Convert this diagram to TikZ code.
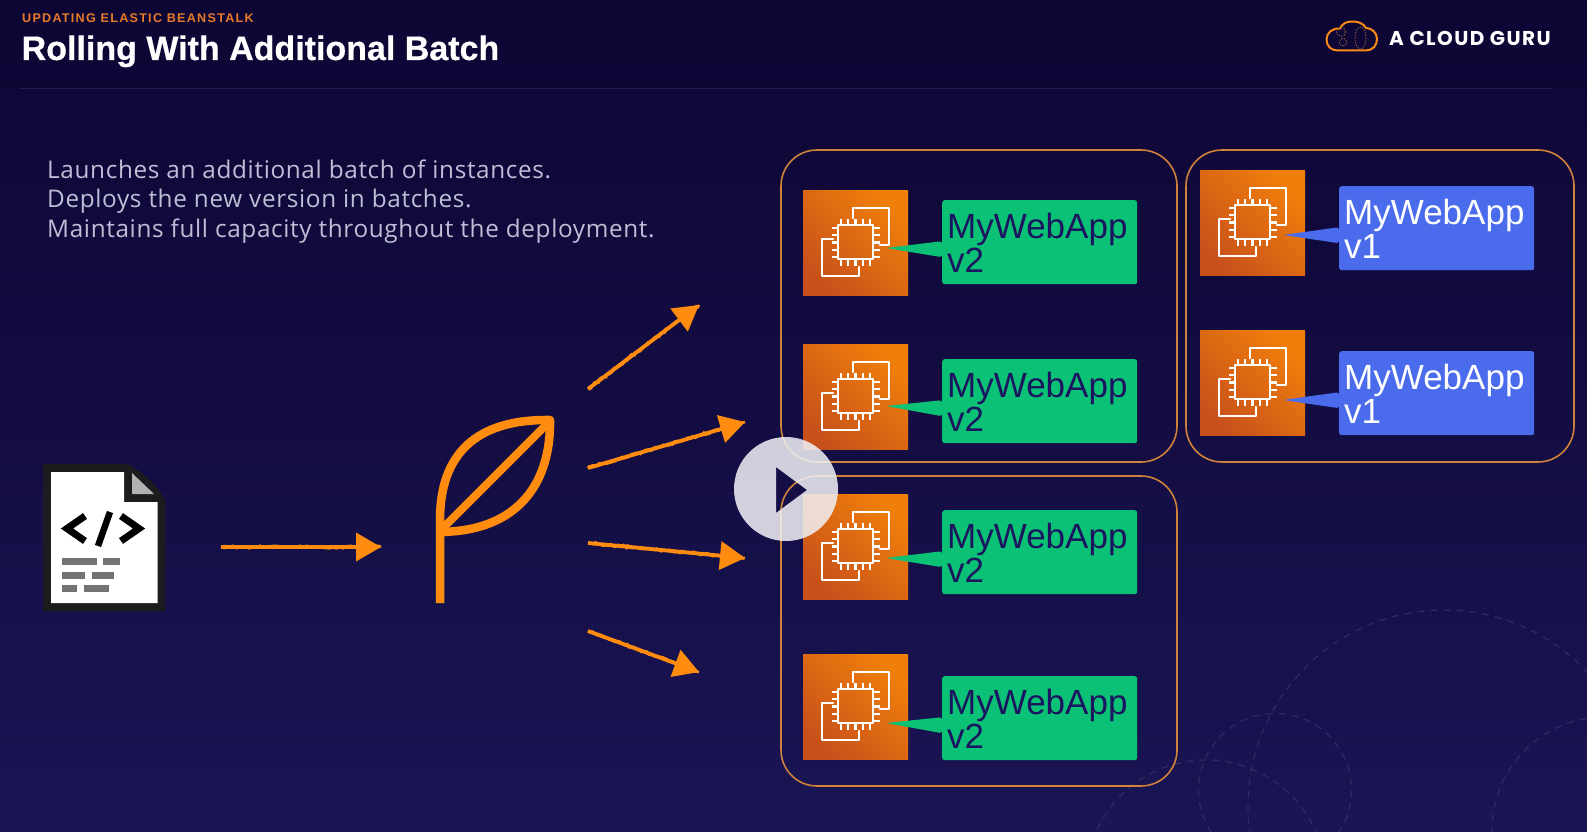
\documentclass[tikz,border=0pt]{standalone}
\usepackage{fontspec}
\setmainfont{Liberation Sans}
\newfontfamily\titlefont[FakeBold=0.6]{Liberation Sans Bold}
\newfontfamily\kickerfont[LetterSpace=10]{Liberation Sans}
\newfontfamily\brandfont[LetterSpace=7]{Poppins}
\newfontfamily\bodyfont[LetterSpace=2.7]{Open Sans}
\usetikzlibrary{arrows.meta,decorations.pathmorphing,calc}
\definecolor{orng}{HTML}{FF8C0E}
\definecolor{kick}{HTML}{E87A2B}
\definecolor{frame}{HTML}{D0813A}
\definecolor{ink}{HTML}{1B1560}
\definecolor{ringc}{HTML}{2E2A62}
\definecolor{ec2low}{HTML}{C8511B}
\definecolor{ec2high}{HTML}{F07F0A}
\definecolor{appgreen}{HTML}{0BC176}
\definecolor{appblue}{HTML}{4A6CEC}
\definecolor{bgtop}{RGB}{13,5,51}
\definecolor{bgbot}{RGB}{26,21,84}
\definecolor{rulec}{RGB}{33,28,80}
\definecolor{desctext}{RGB}{190,190,214}
\definecolor{docdark}{RGB}{28,28,30}
\definecolor{docfold}{RGB}{178,178,178}
\definecolor{playc}{RGB}{240,240,245}
\definecolor{clouddot}{HTML}{8A6240}
\tikzset{
  x=1pt,y=-1pt,
  groupbox/.style={draw=frame,line width=1.6pt,rounded corners=36pt},
  ec2box/.style={minimum width=105pt,minimum height=105pt,inner sep=0pt,anchor=north west,
     shading=axis,bottom color=ec2low,top color=ec2high,shading angle=-45},
  appbox/.style={minimum width=195pt,minimum height=84pt,inner sep=0pt,anchor=north west,rounded corners=2.5pt},
  v2box/.style={appbox,fill=appgreen},
  v1box/.style={appbox,fill=appblue},
  apptext/.style={anchor=base west,inner sep=0pt,align=left,font=\fontsize{35}{34}\selectfont},
  chalk/.style={draw=orng,line width=3.8pt,-{Triangle[length=25pt,width=28pt]},
     postaction={draw=orng,-,line width=2.6pt,decorate,decoration={random steps,segment length=2.5pt,amplitude=1.3pt}}},
  ring/.style={draw=ringc,line width=1.3pt,dash pattern=on 7pt off 6pt},
  clouddots/.style={draw=clouddot,line width=.9pt,dash pattern=on 1.3pt off 1.3pt},
  ec2/.pic={
    \begin{scope}[draw=white,line width=2.8pt,line join=round,line cap=round]
    \draw (35,35) rectangle (70,69);
    \draw (50,28) -- (50,18) -- (86,18) -- (86,55) -- (77,55);
    \draw (30,49) -- (19,49) -- (19,86) -- (56,86) -- (56,77);
    \foreach \p in {3,10,17.5,25,32}{
      \draw[line width=2.8pt,line cap=butt] ({35+\p},35) -- ({35+\p},28.5);
      \draw[line width=2.8pt,line cap=butt] ({35+\p},69) -- ({35+\p},75.5);
      \draw[line width=2.8pt,line cap=butt] (35,{35+\p}) -- (28.5,{35+\p});
      \draw[line width=2.8pt,line cap=butt] (70,{35+\p}) -- (76.5,{35+\p});
    }
    \end{scope}
  }
}
% name, square x, square y, box x, box y, tip y, colour style, version, text colour
\newcommand{\instance}[9]{%
  \node[ec2box] (sq#1) at (#2,#3) {};
  \pic at (sq#1.north west) {ec2};
  \node[#7] (app#1) at (#4,#5) {};
  \coordinate (tip#1) at ($(sq#1.north west)+(83,#6)$);
  \fill[#7] (tip#1) -- ($(app#1.west)+(0,-1)$) -- ($(app#1.west)+(0,15)$) -- cycle;
  \node[apptext,text=#9] (txt#1) at ($(app#1.north west)+(5,72.5)$) {MyWebApp\\v#8};
}
\begin{document}
\begin{tikzpicture}
\useasboundingbox (0,0) rectangle (1587,832);
\shade[top color=bgtop, bottom color=bgbot] (0,0) rectangle (1587,832);
\begin{scope}
\clip (0,0) rectangle (1587,832);
\draw[ring] (1444,806) circle[radius=196];
\draw[ring] (1275,790) circle[radius=76.5];
\draw[ring] (1206,880) circle[radius=120];
\draw[ring] (1605,830) circle[radius=113];
\end{scope}
% header
\coordinate (ruleL) at (19,88.5);
\coordinate (ruleR) at (1553,88.5);
\draw[draw=rulec,line width=1.6pt] (ruleL) -- (ruleR);
\node[anchor=base west,inner sep=0pt,text=kick,font=\kickerfont\bfseries\fontsize{12.6}{14}\selectfont] (kicker) at (22,22.3) {UPDATING ELASTIC BEANSTALK};
\node[anchor=base west,inner sep=0pt,text=white,font=\titlefont\fontsize{34}{36}\selectfont] (title) at (21.5,60) {Rolling With Additional Batch};
\node[anchor=base west,inner sep=0pt,text=white,font=\brandfont\bfseries\fontsize{20}{22}\selectfont] (brand) at (1389,46) {A CLOUD GURU};
\draw[orng!85!frame,line width=2pt,line join=round] (1338,50.5) -- (1366,50.5) .. controls (1373,50.5) and (1377,45) .. (1377,39) .. controls (1377,33) and (1372,28) .. (1366,28) .. controls (1363,23) and (1358,21.5) .. (1352,21.5) .. controls (1346,21.5) and (1342,24) .. (1340,28.5) .. controls (1332,28) and (1326.5,33) .. (1326.5,39.5) .. controls (1326.5,46) and (1331,50.5) .. (1338,50.5) -- cycle;
\draw[clouddots] (1360.5,38) ellipse[x radius=5.5,y radius=11];
\draw[clouddots] (1341,32) circle[radius=4.5];
\draw[clouddots] (1343,42) circle[radius=3.8];
% description
\node[anchor=north west,inner sep=0pt,align=left,text=desctext,font=\bodyfont\fontsize{24.3}{29.5}\selectfont] (desc) at (47,159.5) {Launches an additional batch of instances.\\Deploys the new version in batches.\\Maintains full capacity throughout the deployment.};
% groups
\draw[groupbox] (781,150) rectangle (1177,462);
\draw[groupbox] (781,476) rectangle (1177,786);
\draw[groupbox] (1186,150) rectangle (1574,462);
% instances
\instance{a}{803}{190}{942}{200}{58}{v2box}{2}{ink}
\instance{b}{803}{344}{942}{359}{62}{v2box}{2}{ink}
\instance{c}{803}{494}{942}{510}{64}{v2box}{2}{ink}
\instance{d}{803}{654}{942}{676}{69}{v2box}{2}{ink}
\instance{e}{1200}{170}{1339}{186}{65}{v1box}{1}{white}
\instance{f}{1200}{330}{1339}{351}{70}{v1box}{1}{white}
% source document
\path[fill=docdark] (43,464) -- (126,464) .. controls (142,470) and (158,486) .. (165,500) -- (165,611) -- (43,611) -- cycle;
\path[fill=white] (51,472) -- (124,472) -- (124,502) -- (157.5,502) -- (157.5,603) -- (51,603) -- cycle;
\path[fill=docfold] (132,473) -- (132,494) -- (154,494) -- cycle;
\draw[black,line width=7pt,line join=miter] (85,516) -- (67,528.5) -- (85,541);
\draw[black,line width=7pt,line join=miter] (121,516) -- (139,528.5) -- (121,541);
\draw[black,line width=6.5pt] (110,512) -- (98,546);
\foreach \xa/\xb/\yy in {62/97/558,103/120/558,62/85/572,92/114/572,62/77/585,84/109/585}
  \fill[black!55] (\xa,\yy) rectangle (\xb,\yy+6.5);
% beanstalk leaf
\draw[orng,line width=8.5pt,line join=round] (440,603) -- (440,520) .. controls (440,455) and (475,419) .. (550,420) .. controls (551,480) and (521,531) .. (440,532);
\draw[orng,line width=8pt] (441,530) -- (549,422);
% arrows
\coordinate (m1) at (221,547); \coordinate (m2) at (381,547);
\draw[chalk] (m1) -- (m2);
\coordinate (s1) at (588,389); \coordinate (t1) at (699,305);
\coordinate (s2) at (588,468); \coordinate (t2) at (745,422);
\coordinate (s3) at (588,543); \coordinate (t3) at (745,558);
\coordinate (s4) at (588,631); \coordinate (t4) at (699,672);
\draw[chalk] (s1) -- (t1);
\draw[chalk] (s2) -- (t2);
\draw[chalk] (s3) -- (t3);
\draw[chalk] (s4) -- (t4);
% play button
\fill[even odd rule,fill=playc,fill opacity=.86] (786,489) circle[radius=52] (776,467) -- (776,513) -- (807,490) -- cycle;
\end{tikzpicture}
\end{document}
